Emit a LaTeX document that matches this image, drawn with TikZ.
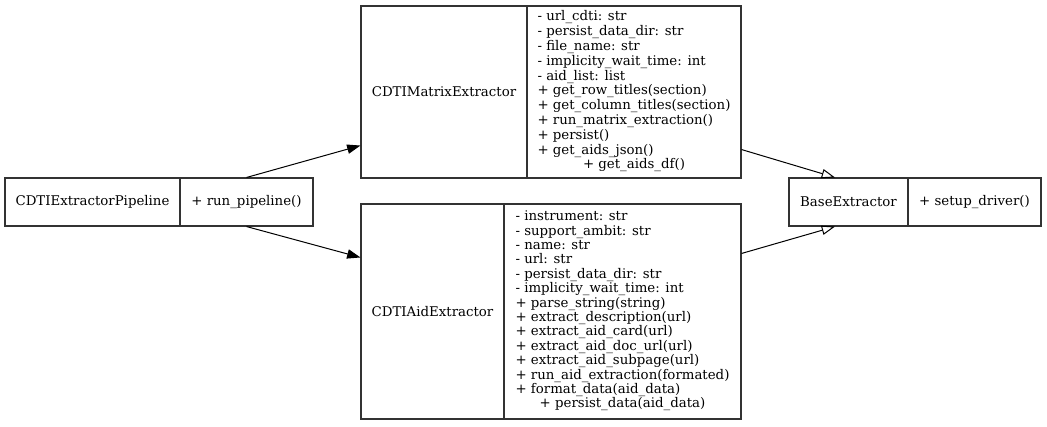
\documentclass[tikz,border=0pt]{standalone}
\usepackage{fontspec}
\setmainfont{DejaVu Serif}
\usetikzlibrary{arrows.meta}
\begin{document}
\begin{tikzpicture}[x=0.75pt,y=-0.75pt,
  cell/.style={draw=black!80, line width=0.8pt, rectangle, inner sep=0pt,
    font=\fontsize{10}{12}\selectfont},
  dep/.style={line width=0.75pt, -{Triangle[length=10pt,width=7pt]}},
  inh/.style={line width=0.75pt, -{Triangle[open,length=10pt,width=7pt]}}]
\useasboundingbox (0,0) rectangle (1047,426);
% CDTIExtractorPipeline
\node[cell, minimum width=131.25pt, minimum height=36pt] (pipeL) at (92.5,202) {CDTIExtractorPipeline};
\node[cell, minimum width=99.75pt, minimum height=36pt] (pipeR) at (246.5,202) {+ run\_pipeline()};
% CDTIMatrixExtractor
\node[cell, minimum width=124.5pt, minimum height=129pt] (matL) at (444,92) {CDTIMatrixExtractor};
\node[cell, minimum width=160.5pt, minimum height=129pt] (matR) at (634,92)
  {\fontsize{10}{11.1}\selectfont\begin{tabular}{@{}l@{}}
  - url\_cdti: str\\
  - persist\_data\_dir: str\\
  - file\_name: str\\
  - implicity\_wait\_time: int\\
  - aid\_list: list\\
  + get\_row\_titles(section)\\
  + get\_column\_titles(section)\\
  + run\_matrix\_extraction()\\
  + persist()\\
  + get\_aids\_json()\\
  \multicolumn{1}{@{}c@{}}{+ get\_aids\_df()}
  \end{tabular}};
% CDTIAidExtractor
\node[cell, minimum width=107.25pt, minimum height=161.25pt] (aidL) at (432.5,311.5) {CDTIAidExtractor};
\node[cell, minimum width=177.75pt, minimum height=161.25pt] (aidR) at (622.5,311.5)
  {\fontsize{10}{10.7}\selectfont\begin{tabular}{@{}l@{}}
  - instrument: str\\
  - support\_ambit: str\\
  - name: str\\
  - url: str\\
  - persist\_data\_dir: str\\
  - implicity\_wait\_time: int\\
  + parse\_string(string)\\
  + extract\_description(url)\\
  + extract\_aid\_card(url)\\
  + extract\_aid\_doc\_url(url)\\
  + extract\_aid\_subpage(url)\\
  + run\_aid\_extraction(formated)\\
  + format\_data(aid\_data)\\
  \multicolumn{1}{@{}c@{}}{+ persist\_data(aid\_data)}
  \end{tabular}};
% BaseExtractor
\node[cell, minimum width=89.25pt, minimum height=36pt] (baseL) at (848.5,202) {BaseExtractor};
\node[cell, minimum width=99.75pt, minimum height=36pt] (baseR) at (974.5,202) {+ setup\_driver()};
% connectors
\draw[dep] (pipeR.north) -- ([yshift=24.75pt]matL.south west);
\draw[dep] (pipeR.south) -- ([yshift=-40.5pt]aidL.north west);
\draw[inh] ([yshift=21.75pt]matR.south east) -- ([xshift=-10.125pt]baseL.north);
\draw[inh] ([yshift=-37.5pt]aidR.north east) -- ([xshift=-10.125pt]baseL.south);
\end{tikzpicture}
\end{document}
